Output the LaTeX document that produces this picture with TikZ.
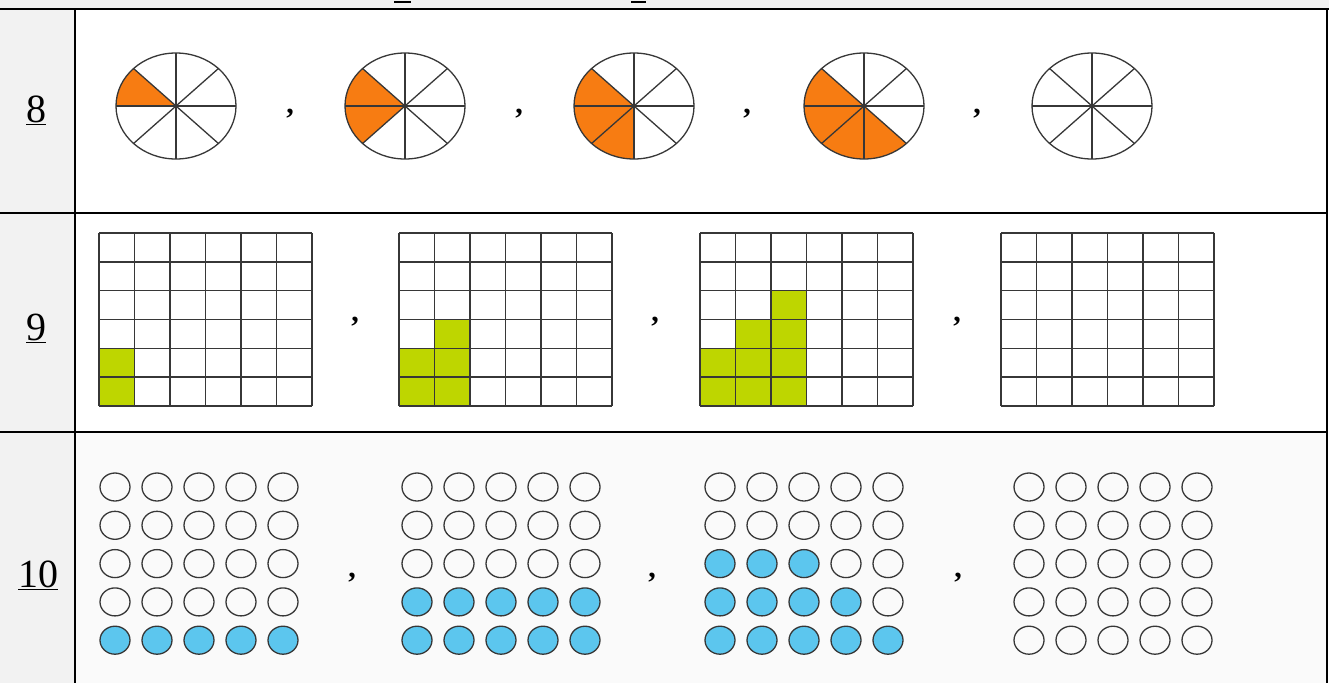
\documentclass[tikz,border=0pt]{standalone}
\usepackage{fontspec}
\setmainfont{Liberation Serif}
\definecolor{bandgray}{HTML}{F2F2F2}
\definecolor{rowten}{RGB}{250,250,250}
\definecolor{pieorange}{RGB}{247,124,18}
\definecolor{cellgreen}{RGB}{190,214,0}
\definecolor{dotblue}{RGB}{92,198,238}
\definecolor{ink}{RGB}{55,55,55}
\tikzset{
  tableline/.style={line width=2.8pt,black},
  pieline/.style={line width=1.3pt,ink},
  gridline/.style={line width=1.5pt,ink},
  dotline/.style={line width=1.3pt,ink},
  rowlabel/.style={font=\fontsize{40}{40}\selectfont,inner sep=0pt},
  sep/.style={font=\fontsize{30}{30}\selectfont\bfseries,inner sep=0pt}
}
\begin{document}
\begin{tikzpicture}[x=1pt,y=-1pt]
\useasboundingbox (0,0) rectangle (1329,683);
% backgrounds
\fill[white] (0,0) rectangle (1329,683);
\fill[bandgray] (0,0) rectangle (1329,9);
\fill[bandgray] (0,9) rectangle (75,683);
\fill[rowten] (75,432) rectangle (1327,683);
% fragments of text above
\draw[line width=2pt] (394,1.5) -- (411,1.5);
\draw[line width=2pt] (631,1.5) -- (646,1.5);

% ---------- row 8: pies ----------
\foreach \cx/\k in {176/1,405/2,634/3,864/4,1092/0}{
  \ifnum\k>0
    \fill[pieorange] (\cx,106) -- ++(-135:60 and 53)
      arc[start angle=-135,end angle={-135-45*\k},x radius=60,y radius=53] -- cycle;
  \fi
  \foreach \a in {0,45,...,315}{
    \draw[pieline] (\cx,106) -- ++(\a:60 and 53);
  }
  \draw[pieline] (\cx,106) ellipse [x radius=60,y radius=53];
}

% ---------- row 9: grids ----------
\def\cw{35.5}
\def\ch{28.833}
\foreach \c/\r in {0/4,0/5}{
  \fill[cellgreen] ({99+\c*\cw},{233+\r*\ch}) rectangle ++(\cw,\ch);}
\foreach \c/\r in {0/4,0/5,1/3,1/4,1/5}{
  \fill[cellgreen] ({399+\c*\cw},{233+\r*\ch}) rectangle ++(\cw,\ch);}
\foreach \c/\r in {0/4,0/5,1/3,1/4,1/5,2/2,2/3,2/4,2/5}{
  \fill[cellgreen] ({700+\c*\cw},{233+\r*\ch}) rectangle ++(\cw,\ch);}
\foreach \gx in {99,399,700,1001}{
  \foreach \i in {0,...,6}{
    \draw[gridline] ({\gx+\i*\cw},233) -- ({\gx+\i*\cw},406);
    \draw[gridline] (\gx,{233+\i*\ch}) -- ({\gx+213},{233+\i*\ch});
  }
}

% ---------- row 10: dots ----------
% per grid: number of filled dots in rows (top to bottom)
\foreach \gx/\na/\nb/\nc/\nd/\ne in {115/0/0/0/0/5,417/0/0/0/5/5,720/0/0/3/4/5,1029/0/0/0/0/0}{
  \foreach \r/\nr in {0/\na,1/\nb,2/\nc,3/\nd,4/\ne}{
    \foreach \c in {0,...,4}{
      \ifnum\c<\nr
        \filldraw[dotline,fill=dotblue] ({\gx+\c*42},{487+\r*38.3}) ellipse [x radius=15,y radius=14];
      \else
        \draw[dotline] ({\gx+\c*42},{487+\r*38.3}) ellipse [x radius=15,y radius=14];
      \fi
    }
  }
}

% ---------- separators ----------
\foreach \sx/\sy [count=\s] in {290/114,519/114,747/114,977/114,355/322,655/322,957/322,352/578,652/578,958/578}{
  \node[sep] (sep\s) at (\sx,\sy) {,};
}

% ---------- table lines ----------
\draw[tableline] (0,9) -- (1329,9);
\draw[tableline] (0,213) -- (1327,213);
\draw[tableline] (0,432) -- (1327,432);
\draw[tableline] (75,9) -- (75,683);
\draw[tableline] (1327,9) -- (1327,683);

% ---------- labels ----------
\node[rowlabel] (l8) at (36,110) {\underline{8}};
\node[rowlabel] (l9) at (36,328) {\underline{9}};
\node[rowlabel] (l10) at (38,575) {\underline{10}};
\end{tikzpicture}
\end{document}
